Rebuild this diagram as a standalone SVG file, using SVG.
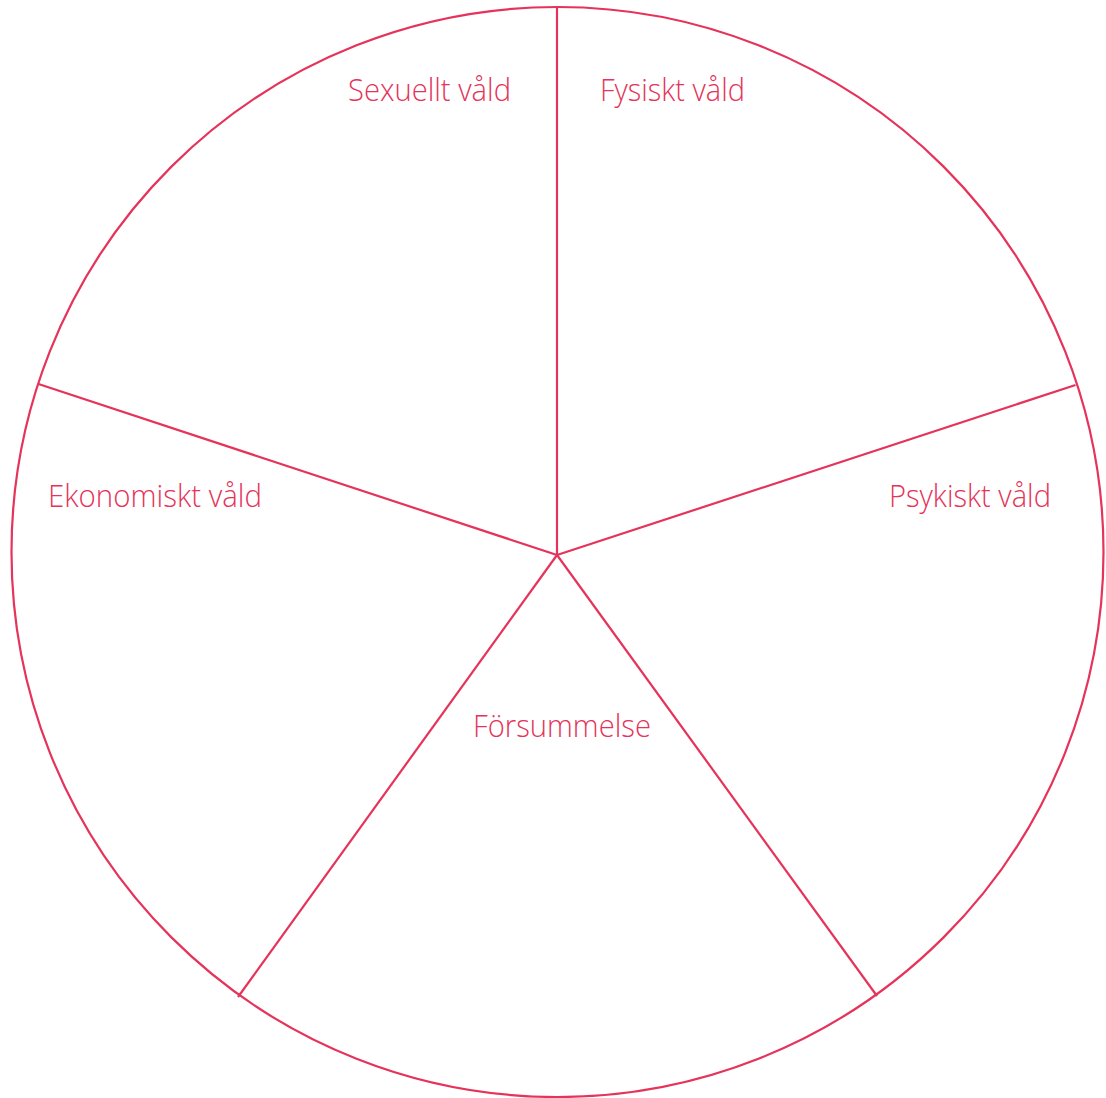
<svg xmlns="http://www.w3.org/2000/svg" width="1106" height="1098" viewBox="0 0 1106 1098">
<style>
.ln{fill:none;stroke:#E5335A;stroke-width:2.2}
.lb{font-family:"Open Sans","Noto Sans",sans-serif;font-size:31px;fill:#E5335A;font-weight:300}
</style>
<rect width="1106" height="1098" fill="#ffffff"/>
<g id="wheel">
<ellipse class="ln" cx="557.5" cy="552" rx="546" ry="545"/>
</g>
<g id="connectors">
<line class="ln" x1="557" y1="555" x2="557" y2="7"/>
<line class="ln" x1="557" y1="555" x2="1075.5" y2="385"/>
<line class="ln" x1="557" y1="555" x2="877" y2="996"/>
<line class="ln" x1="557" y1="555" x2="238" y2="997"/>
<line class="ln" x1="557" y1="555" x2="38.5" y2="384"/>
</g>
<g id="sexuellt"><text class="lb" x="348" y="101" textLength="163" lengthAdjust="spacingAndGlyphs">Sexuellt våld</text></g>
<g id="fysiskt"><text class="lb" x="600" y="101" textLength="145" lengthAdjust="spacingAndGlyphs">Fysiskt våld</text></g>
<g id="psykiskt"><text class="lb" x="889" y="507" textLength="162" lengthAdjust="spacingAndGlyphs">Psykiskt våld</text></g>
<g id="forsummelse"><text class="lb" x="473" y="737" textLength="178" lengthAdjust="spacingAndGlyphs">Försummelse</text></g>
<g id="ekonomiskt"><text class="lb" x="48" y="507" textLength="214" lengthAdjust="spacingAndGlyphs">Ekonomiskt våld</text></g>
</svg>
